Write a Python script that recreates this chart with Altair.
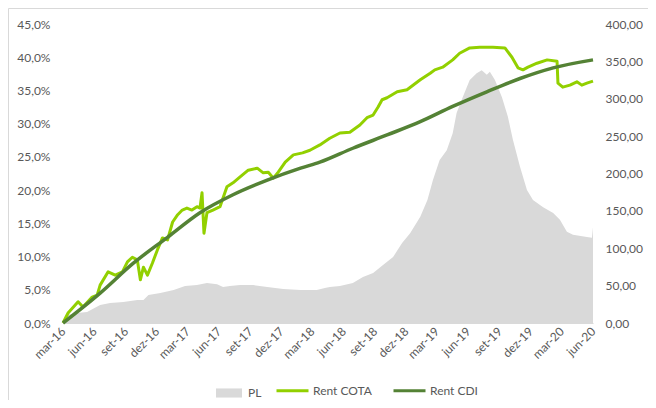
import altair as alt
import pandas as pd

# months since mar-16 (0 = mar-16, 51 = jun-20)
cota_m = [0.00, 0.48, 1.44, 1.92, 2.79, 3.27, 3.56, 4.33, 5.00, 5.68, 6.16, 6.64, 7.12, 7.41, 7.70,
          8.08, 8.56, 9.05, 9.53, 10.01, 10.49, 10.97, 11.45, 11.93, 12.41, 12.89, 13.18, 13.38,
          13.57, 13.86, 14.43, 15.10, 15.78, 16.36, 17.03, 17.80, 18.67, 19.25, 19.73, 20.21,
          20.69, 21.36, 22.13, 23.00, 23.77, 24.73, 25.69, 26.66, 27.62, 28.58, 29.25, 29.83,
          30.31, 30.70, 31.18, 32.14, 33.10, 34.35, 35.32, 35.80, 36.57, 37.53, 38.20, 39.16,
          40.13, 41.38, 42.53, 43.21, 43.78, 44.26, 44.75, 45.61, 46.57, 47.54, 47.63, 48.11,
          48.79, 49.46, 49.94, 50.42, 51.00]
cota_v = [0.0, 1.5, 3.2, 2.4, 3.9, 4.2, 5.7, 7.7, 7.2, 7.7, 9.2, 9.9, 9.5, 6.5, 8.4,
          7.2, 9.0, 11.0, 12.8, 12.5, 15.2, 16.3, 17.0, 17.3, 17.0, 17.5, 17.3, 19.6,
          13.5, 16.6, 17.0, 17.5, 20.5, 21.1, 22.0, 23.0, 23.3, 22.6, 22.7, 21.8,
          22.7, 24.2, 25.3, 25.6, 26.0, 26.8, 27.8, 28.6, 28.7, 29.8, 30.9, 31.3,
          32.5, 33.6, 33.9, 34.8, 35.1, 36.6, 37.6, 38.1, 38.5, 39.6, 40.6, 41.4,
          41.5, 41.5, 41.4, 40.0, 38.4, 38.1, 38.5, 39.1, 39.6, 39.4, 36.1, 35.5,
          35.8, 36.3, 35.8, 36.1, 36.4]

cdi_m = [0.00, 3.56, 6.74, 10.01, 13.18, 16.36, 19.63, 22.81, 24.73, 27.91, 31.18, 34.35,
         37.53, 40.80, 43.97, 47.15, 51.00]
cdi_v = [0.0, 4.5, 9.0, 12.9, 16.6, 19.3, 21.5, 23.3, 24.2, 26.3, 28.3, 30.3,
         32.6, 34.8, 36.8, 38.4, 39.6]

pl_m = [0.00, 0.38, 1.35, 2.31, 3.56, 4.52, 5.77, 7.12, 7.70, 8.18, 9.33, 10.59, 11.74, 12.89,
        13.86, 14.82, 15.40, 16.07, 17.03, 18.28, 19.63, 21.17, 22.81, 24.44, 25.21, 25.69,
        26.66, 27.91, 28.87, 29.83, 30.79, 31.75, 32.62, 33.39, 34.35, 35.03, 35.60, 36.28,
        36.95, 37.53, 37.91, 38.49, 39.16, 39.84, 40.32, 40.80, 41.09, 41.57, 42.24, 42.82,
        43.30, 43.97, 44.65, 45.23, 46.19, 47.15, 47.83, 48.50, 49.08, 50.42, 50.90, 51.00]
pl_v = [0, 10.7, 13.4, 14.7, 24, 26.8, 28, 30.8, 30.8, 37.5, 40, 44, 49.5, 50.8,
        53.5, 52, 48, 49.5, 50.8, 50.8, 48, 45.5, 44, 44, 46.8, 48,
        49.5, 53.5, 61.5, 66.9, 77.6, 88.3, 107, 120, 142, 164.5, 191, 218,
        231, 254, 281, 302, 325, 334, 338, 332, 336, 325, 302, 276,
        245, 209, 178, 164.5, 155, 147, 138, 122, 118, 115, 114, 128]

tick_months = list(range(0, 52, 3))
pct_ticks = list(range(0, 46, 5))
pl_ticks = list(range(0, 401, 50))


def to_ms(m):
    whole = int(m)
    frac = m - whole
    d0 = pd.Timestamp("2016-03-01") + pd.DateOffset(months=whole)
    d1 = d0 + pd.DateOffset(months=1)
    d = d0 + (d1 - d0) * frac
    return int(d.value // 10**6)


pl_df = pd.DataFrame({"t": [to_ms(m) for m in pl_m], "v": pl_v, "s": "PL"})
cota_df = pd.DataFrame({"t": [to_ms(m) for m in cota_m], "v": cota_v, "s": "Rent COTA"})
cdi_df = pd.DataFrame({"t": [to_ms(m) for m in cdi_m], "v": cdi_v, "s": "Rent CDI"})

FONT = "Lato"
GRAY = "#595959"

month_expr = ("['jan','fev','mar','abr','mai','jun','jul','ago','set','out','nov','dez']"
              "[utcmonth(datum.value)] + '-' + utcFormat(datum.value, '%y')")

x_scale = alt.Scale(type="utc", domain=[to_ms(0), to_ms(51)])
x_axis = alt.Axis(values=[to_ms(m) for m in tick_months], labelExpr=month_expr, labelAngle=-45,
                  labelAlign="right", labelBaseline="middle", labelPadding=6, ticks=False,
                  labelOverlap=False, labelBound=False, labelFlush=False,
                  domain=True, domainColor="#d9d9d9", grid=False, title=None)

area = alt.Chart(pl_df).mark_area(interpolate="linear").encode(
    x=alt.X("t:T", scale=x_scale, axis=x_axis),
    y=alt.Y("v:Q", scale=alt.Scale(domain=[0, 400]),
            axis=alt.Axis(orient="right", values=pl_ticks, title=None, grid=False, ticks=False,
                          domain=False, labelPadding=12,
                          labelExpr="replace(format(datum.value, '.2f'), '.', ',')")),
    fill=alt.Fill("s:N", scale=alt.Scale(domain=["PL"], range=["#d9d9d9"]),
                  legend=alt.Legend(orient="none", legendX=153, legendY=356, title=None,
                                    symbolType="M-1,-0.35H1V0.35H-1Z", symbolSize=676,
                                    symbolStrokeWidth=0, labelOffset=6, padding=0)),
)

stroke_scale = alt.Scale(domain=["Rent COTA", "Rent CDI"], range=["#92D000", "#548235"])
stroke_legend = alt.Legend(orient="none", legendX=212, legendY=349, title=None,
                           direction="horizontal", symbolType="stroke", symbolSize=1024,
                           symbolStrokeWidth=3, labelOffset=3, columnPadding=15, padding=0)

y_left = alt.Y("v:Q", scale=alt.Scale(domain=[0, 45]),
               axis=alt.Axis(orient="left", values=pct_ticks, title=None, grid=False, ticks=False,
                             domain=False, labelPadding=13,
                             labelExpr="replace(format(datum.value, '.1f'), '.', ',') + '%'"))

cota = alt.Chart(cota_df).mark_line(strokeWidth=3, strokeJoin="round").encode(
    x=alt.X("t:T", scale=x_scale, axis=x_axis),
    y=y_left,
    stroke=alt.Stroke("s:N", scale=stroke_scale, legend=stroke_legend),
)
cdi = alt.Chart(cdi_df).mark_line(strokeWidth=3.5, interpolate="monotone").encode(
    x=alt.X("t:T", scale=x_scale, axis=x_axis),
    y=y_left,
    stroke=alt.Stroke("s:N", scale=stroke_scale, legend=stroke_legend),
)

lines = alt.layer(cota, cdi)

frame_top = alt.Chart(alt.Data(values=[{}])).mark_rule(color="#d9d9d9", strokeWidth=1).encode(
    x=alt.value(-54.5), x2=alt.value(590), y=alt.value(-15.5))
frame_left = alt.Chart(alt.Data(values=[{}])).mark_rule(color="#d9d9d9", strokeWidth=1).encode(
    x=alt.value(-54.5), y=alt.value(-15.5), y2=alt.value(380))

chart = alt.layer(area, lines, frame_top, frame_left).resolve_scale(
    y="independent"
).properties(
    width=530, height=299,
    autosize=alt.AutoSizeParams(type="none"),
    padding={"left": 55, "top": 16, "right": 55, "bottom": 77},
).configure_view(stroke=None).configure_axis(
    labelFont=FONT, labelFontSize=12, labelColor=GRAY
).configure_legend(
    labelFont=FONT, labelFontSize=12, labelColor=GRAY
)

chart.save("out.html", embed_options={"renderer": "svg", "actions": False})
